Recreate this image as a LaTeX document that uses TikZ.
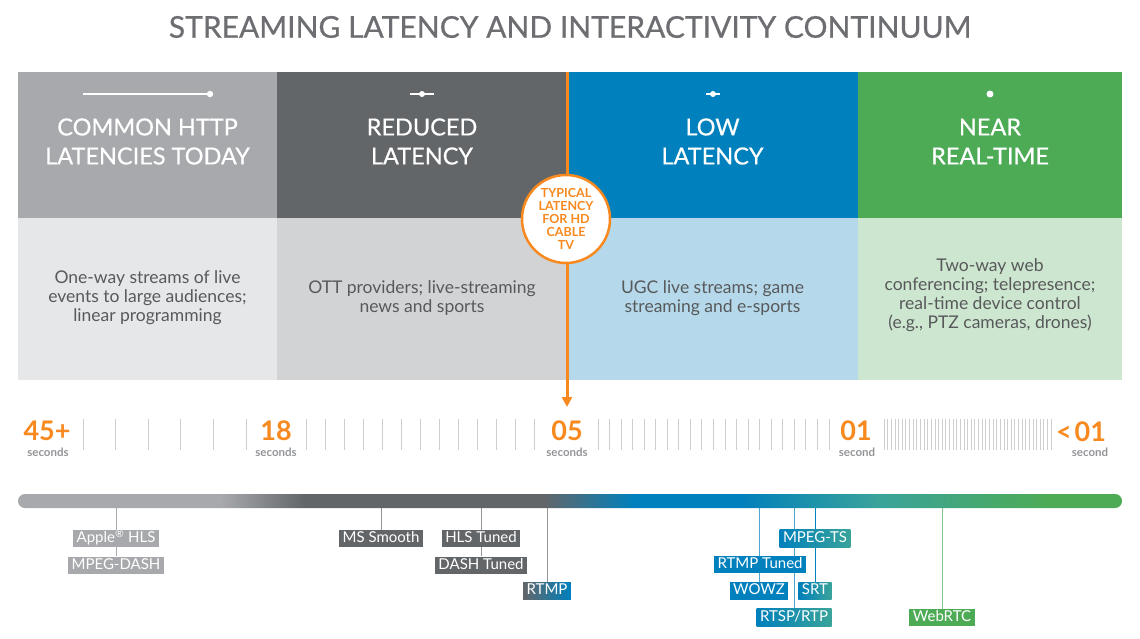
\documentclass[tikz,border=0pt]{standalone}
\usepackage{fontspec}
\setmainfont{Lato}
\newfontfamily\medfont{Lato}[FakeBold=0.6]
\usepackage{tikz}
\usetikzlibrary{arrows.meta}
\usetikzlibrary{positioning}
\usetikzlibrary{backgrounds}
\definecolor{httpdark}{HTML}{A7A9AC}
\definecolor{httplight}{HTML}{E6E7E8}
\definecolor{reddark}{HTML}{636669}
\definecolor{redlight}{HTML}{D1D3D4}
\definecolor{lowdark}{HTML}{0080BC}
\definecolor{lowlight}{HTML}{B5D9EA}
\definecolor{rtdark}{HTML}{4DAB55}
\definecolor{rtlight}{HTML}{CDE6CF}
\definecolor{tealish}{HTML}{3AA39A}
\definecolor{latorange}{HTML}{F7891F}
\definecolor{titlegray}{HTML}{6D6E71}
\definecolor{bodygray}{HTML}{58595B}
\definecolor{secgray}{HTML}{939598}
\definecolor{tickgray}{HTML}{CDCED0}
\pgfdeclarehorizontalshading{latbar}{100bp}{color(0bp)=(httpdark); color(25bp)=(httpdark); color(34.2bp)=(httpdark); color(38bp)=(reddark); color(48.8bp)=(reddark); color(52.9bp)=(lowdark); color(57.7bp)=(lowdark); color(64bp)=(tealish); color(71.7bp)=(rtdark); color(100bp)=(rtdark)}
\tikzstyle{heading} = [text=white, align=center, font=\medfont\fontsize{23.5}{29}\selectfont]
\tikzstyle{body} = [text=bodygray, align=center, font=\fontsize{17.5}{19}\selectfont]
\tikzstyle{secnum} = [text=latorange, font=\bfseries\fontsize{27}{30}\selectfont, inner sep=0pt]
\tikzstyle{seclabel} = [text=secgray, font=\bfseries\fontsize{11.5}{12}\selectfont, inner sep=0pt]
\tikzstyle{tick} = [tickgray, line width=1pt]
\tikzstyle{proto} = [text=white, font=\fontsize{15}{16}\selectfont, inner xsep=3.5pt, inner ysep=1.5pt, text height=11pt, text depth=3.5pt]
\tikzstyle{lead} = [line width=1pt]
\tikzstyle{arrow} = [latorange, line width=3pt, -{Triangle[width=10pt,length=10pt]}]

\begin{document}
\begin{tikzpicture}[x=1pt, y=-1pt]
\useasboundingbox (0,0) rectangle (1140,638);
\node[text=titlegray, font=\medfont\fontsize{30}{32}\selectfont] (title) at (570,27) {STREAMING LATENCY AND INTERACTIVITY CONTINUUM};
\fill[httpdark] (18,72) rectangle (277,218);
\fill[reddark] (277,72) rectangle (567,218);
\fill[lowdark] (567,72) rectangle (858,218);
\fill[rtdark] (858,72) rectangle (1122,218);
\fill[httplight] (18,218) rectangle (277,380);
\fill[redlight] (277,218) rectangle (567,380);
\fill[lowlight] (567,218) rectangle (858,380);
\fill[rtlight] (858,218) rectangle (1122,380);
\draw[white, line width=2.5pt] (83,94) -- (210,94);
\fill[white] (210,94) circle (3.2);
\draw[white, line width=2pt] (410,94) -- (434,94);
\fill[white] (422,94) circle (3);
\draw[white, line width=2pt] (706,94) -- (720,94);
\fill[white] (713,94) circle (3);
\fill[white] (990,94) circle (3.5);
\node[heading] (head1) at (147.5,141.5) {COMMON HTTP\\LATENCIES TODAY};
\node[heading] (head2) at (422,141.5) {REDUCED\\LATENCY};
\node[heading] (head3) at (712.5,141.5) {LOW\\LATENCY};
\node[heading] (head4) at (990,141.5) {NEAR\\REAL-TIME};
\node[body] (body1) at (147.5,298) {One-way streams of live\\events to large audiences;\\linear programming};
\node[body] (body2) at (422,298.5) {OTT providers; live-streaming\\news and sports};
\node[body] (body3) at (712.5,298.5) {UGC live streams; game\\streaming and e-sports};
\node[body] (body4) at (990,295.5) {Two-way web\\conferencing; telepresence;\\real-time device control\\(e.g., PTZ cameras, drones)};
\coordinate (ltop) at (567,72);
\coordinate (ltip) at (567,407);
\draw[arrow] (ltop) -- (ltip);
\node[circle, draw=latorange, line width=2.5pt, fill=white, minimum size=88pt, inner sep=0pt, text=latorange, align=center, font=\bfseries\fontsize{12.5}{13.2}\selectfont] (typical) at (566,219) {TYPICAL\\LATENCY\\FOR HD\\CABLE\\TV};
\foreach \i in {0,...,5} \draw[tick] ({83+32.6*\i},419) -- ++(0,31);
\foreach \i in {0,...,12} \draw[tick] ({306+19.08*\i},419) -- ++(0,31);
\foreach \i in {0,...,20} \draw[tick] ({598+11.55*\i},419) -- ++(0,31);
\foreach \i in {0,...,46} \draw[tick, line width=0.6pt] ({884+3.63*\i},419) -- ++(0,31);
\node[secnum] (n45) at (47,431) {45+};
\node[seclabel] (s45) at (48,452) {seconds};
\node[secnum] (n18) at (276,431) {18};
\node[seclabel] (s18) at (276,452) {seconds};
\node[secnum] (n05) at (567,431) {05};
\node[seclabel] (s05) at (567,452) {seconds};
\node[secnum] (n01) at (856,431) {01};
\node[seclabel] (s01) at (857,452) {second};
\node[secnum] (nlt) at (1081,432) {<\kern3pt 01};
\node[seclabel] (slt) at (1090,452) {second};
\shade[shading=latbar, rounded corners=7pt] (18,494) rectangle (1122,508);
\node[proto, fill=httpdark] (hls) at (116,538.5) {Apple\textsuperscript{®} HLS};
\node[proto, fill=httpdark, below=9pt of hls] (dash) {MPEG-DASH};
\node[proto, fill=reddark] (mss) at (381,538.5) {MS Smooth};
\node[proto, fill=reddark] (hlst) at (481,538.5) {HLS Tuned};
\node[proto, fill=reddark, below=9pt of hlst] (dasht) {DASH Tuned};
\node[proto, left color=reddark, right color=lowdark] (rtmp) at (547,591) {RTMP};
\node[proto, left color=lowdark, right color=tealish] (mpegts) at (815,538.5) {MPEG-TS};
\node[proto, fill=lowdark] (rtmpt) at (760,564.5) {RTMP Tuned};
\node[proto, fill=lowdark] (wowz) at (759,591) {WOWZ};
\node[proto, left color=lowdark, right color=tealish] (srt) at (815,591) {SRT};
\node[proto, left color=lowdark, right color=tealish] (rtsp) at (794,617.5) {RTSP/RTP};
\node[proto, fill=rtdark] (webrtc) at (942,617.5) {WebRTC};
\coordinate (bhls) at (116,508);
\coordinate (bmss) at (381,508);
\coordinate (bhlst) at (481,508);
\coordinate (brtmp) at (547,508);
\coordinate (bwowz) at (759,508);
\coordinate (brtsp) at (794,508);
\coordinate (bsrt) at (815,508);
\coordinate (bweb) at (942,508);
\begin{scope}[on background layer]
\fill[white] (0,0) rectangle (1140,638);
\draw[lead, httpdark] (bhls) -- (bhls |- dash.north);
\draw[lead, secgray] (bmss) -- (bmss |- mss.north);
\draw[lead, secgray] (bhlst) -- (bhlst |- dasht.north);
\draw[lead, secgray] (brtmp) -- (brtmp |- rtmp.north);
\draw[lead, lowdark!70] (bwowz) -- (bwowz |- wowz.north);
\draw[lead, lowdark!70] (brtsp) -- (brtsp |- rtsp.north);
\draw[lead, lowdark] (bsrt) -- (bsrt |- srt.north);
\draw[lead, rtdark!70] (bweb) -- (bweb |- webrtc.north);
\end{scope}
\end{tikzpicture}
\end{document}
